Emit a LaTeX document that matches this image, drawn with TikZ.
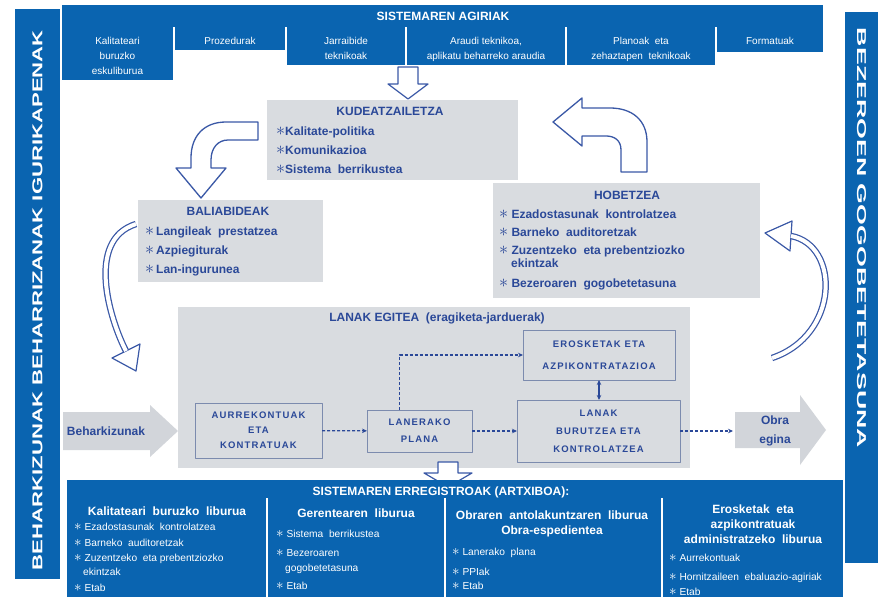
\documentclass[tikz,border=0pt]{standalone}
\usepackage{graphicx}
\usepackage{fontspec}
\setmainfont{Liberation Sans}
\usetikzlibrary{positioning,arrows.meta}
\definecolor{sysblue}{HTML}{0A64B0}
\definecolor{boxgray}{HTML}{D9DCE0}
\definecolor{txtblue}{HTML}{2A4898}
\definecolor{arrblue}{HTML}{3A58A6}
\definecolor{edgegray}{HTML}{7C8BAE}
\definecolor{arrgray}{HTML}{D2D5DA}
\newcommand{\bul}{\scalebox{1.5}{$\ast$}}

\begin{document}
\begin{tikzpicture}[x=1pt, y=-1pt, >={Stealth[length=5pt,width=4.5pt]}, line join=round,
  bluebox/.style={fill=sysblue, inner sep=0pt, outer sep=0pt, anchor=north west},
  celltext/.style={text=white, inner sep=0pt, align=center, font=\fontsize{10}{15}\selectfont},
  wtitle/.style={text=white, inner sep=0pt, align=center, font=\fontsize{12}{15}\selectfont\bfseries},
  witem/.style={text=white, inner sep=0pt, align=left, anchor=north west, font=\fontsize{10.2}{15.5}\selectfont},
  graybox/.style={fill=boxgray, inner sep=0pt, outer sep=0pt, anchor=north west},
  gtitle/.style={text=txtblue, inner sep=0pt, font=\fontsize{12}{15}\selectfont\bfseries},
  items/.style={text=txtblue, inner sep=0pt, align=left, anchor=north west, font=\fontsize{12}{19}\selectfont\bfseries},
  inbox/.style={graybox, draw=edgegray, line width=1pt, text=txtblue, align=center,
    font=\fontsize{9.5}{15}\selectfont\bfseries\addfontfeature{LetterSpace=12}},
  flow/.style={->, densely dashed, draw=txtblue, line width=1.2pt},
  blockarr/.style={draw=arrblue, fill=white, line width=1.3pt},
  swirl/.style={draw=white, line width=4pt, preaction={draw=arrblue, line width=6.5pt}},
  swhead/.style={draw=arrblue, fill=white, line width=1.2pt}]
\useasboundingbox (0,0) rectangle (882,599);

% side bars
\node[fill=sysblue, rotate=90, minimum width=570pt, minimum height=45pt, inner sep=0pt] (lbar) at (37.5,294) {};
\node[rotate=90, text=white, font=\bfseries, inner sep=0pt] (lbarT) at (37.5,300)
  {\resizebox{540pt}{10pt}{BEHARKIZUNAK BEHARRIZANAK IGURIKAPENAK}};
\node[fill=sysblue, rotate=-90, minimum width=551pt, minimum height=33pt, inner sep=0pt] (rbar) at (861.5,287.5) {};
\node[rotate=-90, text=white, font=\bfseries, inner sep=0pt] (rbarT) at (861.5,238)
  {\resizebox{420pt}{9pt}{BEZEROEN GOGOBETETASUNA}};

% sistemaren agiriak
\node[bluebox, minimum width=761pt, minimum height=22pt] (agiriak) at (62,5) {};
\node[wtitle] (agiriakT) at (443,16) {SISTEMAREN AGIRIAK};
\node[bluebox, minimum width=111pt, minimum height=53pt] (c1) at (62,27) {};
\node[bluebox, minimum width=110pt, minimum height=23pt] (c2) at (175,27) {};
\node[bluebox, minimum width=118pt, minimum height=38pt] (c3) at (287,27) {};
\node[bluebox, minimum width=158pt, minimum height=38pt] (c4) at (407,27) {};
\node[bluebox, minimum width=148pt, minimum height=38pt] (c5) at (567,27) {};
\node[bluebox, minimum width=106pt, minimum height=25pt] (c6) at (717,27) {};
\node[celltext, below=10pt of c1.north] (c1t) {Kalitateari\\buruzko\\eskuliburua};
\node[celltext, below=10pt of c2.north] (c2t) {Prozedurak};
\node[celltext, below=10pt of c3.north] (c3t) {Jarraibide\\teknikoak};
\node[celltext, below=10pt of c4.north] (c4t) {Araudi teknikoa,\\aplikatu beharreko araudia};
\node[celltext, below=10pt of c5.north] (c5t) {Planoak\ \ eta\\zehaztapen\ \ teknikoak};
\node[celltext, below=10pt of c6.north] (c6t) {Formatuak};
\draw[blockarr, line width=1.2pt] (398,67) -- (418,67) -- (418,84) -- (428,84) -- (408,99) -- (388,84) -- (398,84) -- cycle;

% kudeatzailetza, baliabideak, hobetzea
\node[graybox, minimum width=251pt, minimum height=80pt] (kude) at (267,100) {};
\node[gtitle] (kudeT) at (390,111) {KUDEATZAILETZA};
\node[items] (kudeI) at (276,127) {\bul Kalitate-politika\\\bul Komunikazioa\\\bul Sistema\ \ berrikustea};

\node[graybox, minimum width=185pt, minimum height=82pt] (bali) at (138,200) {};
\node[gtitle] (baliT) at (228,211) {BALIABIDEAK};
\node[items] (baliI) at (145,227) {\bul\,Langileak\ \ prestatzea\\\bul\,Azpiegiturak\\\bul\,Lan-ingurunea};

\node[graybox, minimum width=267pt, minimum height=115pt] (hobe) at (493,183) {};
\node[gtitle] (hobeT) at (627,195) {HOBETZEA};
\node[items, font=\fontsize{12}{18}\selectfont\bfseries] (hobeI) at (499,210)
  {\bul\ Ezadostasunak\ \ kontrolatzea\\\bul\ Barneko\ \ auditoretzak\\\bul\ Zuzentzeko\ \ eta prebentziozko\\[-5pt]\hspace*{12pt}ekintzak\\[2pt]\bul\ Bezeroaren\ \ gogobetetasuna};

\draw[blockarr] (258,122) -- (226,122) .. controls (204,122) and (191,136) .. (191,158) -- (191,168) -- (176,168) -- (201,198)
  -- (226,168) -- (211,168) -- (211,160) .. controls (211,148) and (218,140) .. (228,140) -- (258,140) -- cycle;
\draw[blockarr] (647,172) -- (647,142) .. controls (647,120) and (632,108) .. (610,108) -- (582,108) -- (582,98) -- (553,122)
  -- (582,146) -- (582,136) -- (606,136) .. controls (614,136) and (621,140) .. (621,150) -- (621,172) -- cycle;

% swirls
\draw[swhead] (136,371) -- (112,358) -- (140,344) -- cycle;
\draw[swirl] (136,224) .. controls (85,240) and (110,320) .. (126,351);
\draw[swhead] (765,233) -- (792,221) -- (790,251) -- cycle;
\draw[swirl] (772,358) .. controls (840,335) and (840,245) .. (791,236);

% lanak egitea
\node[graybox, minimum width=512pt, minimum height=161pt] (lanak) at (178,307) {};
\node[gtitle] (lanakT) at (437,318) {LANAK EGITEA\ \ (eragiketa-jarduerak)};
\node[inbox, minimum width=127pt, minimum height=55pt] (aurre) at (195,403) {AURREKONTUAK\\ETA\\KONTRATUAK};
\node[inbox, minimum width=105pt, minimum height=42pt] (plana) at (367,410) {LANERAKO\\[2pt]PLANA};
\node[inbox, minimum width=152pt, minimum height=50pt] (eros) at (523,330) {EROSKETAK ETA\\[7pt]AZPIKONTRATAZIOA};
\node[inbox, minimum width=163pt, minimum height=62pt] (burutu) at (517,400) {LANAK\\[3pt]BURUTZEA ETA\\[3pt]KONTROLATZEA};

\fill[arrgray] (63,412) -- (150,412) -- (150,405) -- (178,431) -- (150,457) -- (150,450) -- (63,450) -- cycle;
\node[gtitle] (behar) at (106,431) {Beharkizunak};
\fill[arrgray] (735,412) -- (800,412) -- (800,395) -- (826,430) -- (800,465) -- (800,448) -- (735,448) -- cycle;
\node[gtitle, align=center, font=\fontsize{12}{19}\selectfont\bfseries] (obra) at (775,431) {Obra\\egina};
\coordinate (obraIn) at (733,431);

\draw[flow] (aurre) -- (plana);
\draw[flow] (plana) -- (burutu);
\draw[flow] ([xshift=-20pt]plana.north) |- (eros);
\draw[<->, draw=txtblue, line width=1.2pt] (eros.south) -- (eros.south |- burutu.north);
\draw[flow] (burutu) -- (obraIn);

% sistemaren erregistroak
\draw[blockarr, line width=1.2pt] (438,462) -- (458,462) -- (458,473) -- (472,473) -- (448,487) -- (424,473) -- (438,473) -- cycle;
\node[bluebox, minimum width=776pt, minimum height=117pt] (erreg) at (67,480) {};
\node[wtitle] (erregT) at (441,492) {SISTEMAREN ERREGISTROAK (ARTXIBOA):};
\foreach \sx in {267,445,662} \draw[white, line width=1.2pt] (\sx,498) -- (\sx,597);

\node[wtitle] (e1T) at (167,511) {Kalitateari\ \ buruzko\ \ liburua};
\node[witem] (e1I) at (74,523) {\bul\ Ezadostasunak\ \ kontrolatzea\\\bul\ Barneko\ \ auditoretzak\\\bul\ Zuzentzeko\ \ eta\ prebentziozko\\[-2pt]\hspace*{9pt}ekintzak\\[1pt]\bul\ Etab};
\node[wtitle] (e2T) at (356,513) {Gerentearen\ \ liburua};
\node[witem] (e2I) at (276,530) {\bul\ Sistema\ \ berrikustea\\[3pt]\bul\ Bezeroaren\\\hspace*{9pt}gogobetetasuna\\[2pt]\bul\ Etab};
\node[wtitle] (e3T) at (552,524) {Obraren\ \ antolakuntzaren\ \ liburua\\Obra-espedientea};
\node[witem] (e3I) at (452,548) {\bul\ Lanerako\ \ plana\\[4pt]\bul\ PPIak\\[-1pt]\bul\ Etab};
\node[wtitle] (e4T) at (753,524) {Erosketak\ \ eta\\azpikontratuak\\administratzeko\ \ liburua};
\node[witem] (e4I) at (669,554) {\bul\ Aurrekontuak\\[3pt]\bul\ Hornitzaileen\ \ ebaluazio-agiriak\\\bul\ Etab};
\end{tikzpicture}
\end{document}
